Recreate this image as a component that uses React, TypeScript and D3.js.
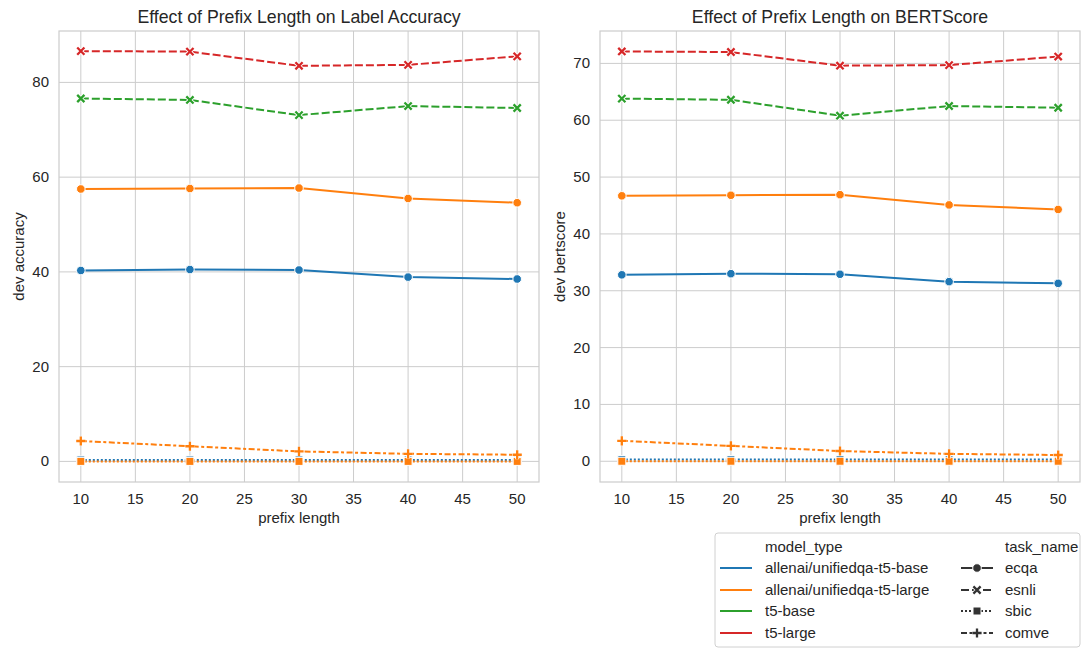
import React from 'react';
import * as d3 from 'd3';

const prefixLengths = [10, 20, 30, 40, 50];
const models = ['allenai/unifiedqa-t5-base', 'allenai/unifiedqa-t5-large', 't5-base', 't5-large'];
const modelColors = ['#1f77b4', '#ff7f0e', '#2ca02c', '#d62728'];
const tasks = ['ecqa', 'esnli', 'sbic', 'comve'];
const taskDashes = ['', '8,3', '2,2', '6,2.5,3,2.5'];

// accuracy series
const accBaseEcqa = [40.3, 40.5, 40.4, 38.9, 38.5];
const accLargeEcqa = [57.5, 57.6, 57.7, 55.5, 54.6];
const accT5BaseEsnli = [76.6, 76.3, 73.1, 75.0, 74.6];
const accT5LargeEsnli = [86.6, 86.5, 83.5, 83.7, 85.5];
const accBaseSbic = [0.3, 0.3, 0.3, 0.3, 0.3];
const accLargeSbic = [0, 0, 0, 0, 0];
const accLargeComve = [4.3, 3.2, 2.1, 1.6, 1.4];

// bertscore series
const bsBaseEcqa = [32.8, 33.0, 32.9, 31.6, 31.3];
const bsLargeEcqa = [46.7, 46.8, 46.9, 45.1, 44.3];
const bsT5BaseEsnli = [63.8, 63.6, 60.8, 62.5, 62.2];
const bsT5LargeEsnli = [72.1, 72.0, 69.6, 69.7, 71.2];
const bsBaseSbic = [0.3, 0.3, 0.3, 0.3, 0.3];
const bsLargeSbic = [0, 0, 0, 0, 0];
const bsLargeComve = [3.6, 2.7, 1.8, 1.3, 1.1];

type Series = { model: number; task: number; values: number[] };

const accSeries: Series[] = [
  { model: 0, task: 0, values: accBaseEcqa },
  { model: 1, task: 0, values: accLargeEcqa },
  { model: 2, task: 1, values: accT5BaseEsnli },
  { model: 3, task: 1, values: accT5LargeEsnli },
  { model: 0, task: 2, values: accBaseSbic },
  { model: 1, task: 2, values: accLargeSbic },
  { model: 1, task: 3, values: accLargeComve },
];
const bsSeries: Series[] = [
  { model: 0, task: 0, values: bsBaseEcqa },
  { model: 1, task: 0, values: bsLargeEcqa },
  { model: 2, task: 1, values: bsT5BaseEsnli },
  { model: 3, task: 1, values: bsT5LargeEsnli },
  { model: 0, task: 2, values: bsBaseSbic },
  { model: 1, task: 2, values: bsLargeSbic },
  { model: 1, task: 3, values: bsLargeComve },
];

const xTicks = [10, 15, 20, 25, 30, 35, 40, 45, 50];
const font = '"Liberation Sans", Arial, sans-serif';
const textColor = '#262626';
const fs = 15;

function Marker({ task, x, y, color }: { task: number; x: number; y: number; color: string }) {
  if (task === 0) return <circle cx={x} cy={y} r={4.3} fill={color} stroke="white" strokeWidth={1} />;
  if (task === 1) {
    const s = 3.6;
    const d = `M${x - s},${y - s}L${x + s},${y + s}M${x - s},${y + s}L${x + s},${y - s}`;
    return (
      <g>
        <path d={d} stroke="white" strokeWidth={4} />
        <path d={d} stroke={color} strokeWidth={2.3} />
      </g>
    );
  }
  if (task === 2) return <rect x={x - 4} y={y - 4} width={8} height={8} fill={color} stroke="white" strokeWidth={1} />;
  const s = 4.6;
  const d = `M${x - s},${y}L${x + s},${y}M${x},${y - s}L${x},${y + s}`;
  return (
    <g>
      <path d={d} stroke="white" strokeWidth={4} />
      <path d={d} stroke={color} strokeWidth={2.3} />
    </g>
  );
}

function Panel({ left, right, top, bottom, yDomain, yTicks, series, title, ylabel }: {
  left: number; right: number; top: number; bottom: number; yDomain: [number, number];
  yTicks: number[]; series: Series[]; title: string; ylabel: string;
}) {
  const x = d3.scaleLinear().domain([8, 52]).range([left, right]);
  const y = d3.scaleLinear().domain(yDomain).range([bottom, top]);
  const line = d3.line<number>().x((_, i) => x(prefixLengths[i])).y(d => y(d));
  return (
    <g fontFamily={font}>
      {xTicks.map(t => (
        <line key={'gx' + t} x1={x(t)} x2={x(t)} y1={top} y2={bottom} stroke="#cccccc" strokeWidth={1} />
      ))}
      {yTicks.map(t => (
        <line key={'gy' + t} x1={left} x2={right} y1={y(t)} y2={y(t)} stroke="#cccccc" strokeWidth={1} />
      ))}
      <rect x={left} y={top} width={right - left} height={bottom - top} fill="none" stroke="#cccccc" strokeWidth={1.2} />
      {series.map((s, i) => (
        <g key={i}>
          <path d={line(s.values) || ''} fill="none" stroke={modelColors[s.model]} strokeWidth={2}
            strokeDasharray={taskDashes[s.task]} />
          {s.values.map((v, j) => (
            <Marker key={j} task={s.task} x={x(prefixLengths[j])} y={y(v)} color={modelColors[s.model]} />
          ))}
        </g>
      ))}
      {xTicks.map(t => (
        <text key={'tx' + t} x={x(t)} y={bottom + 22} textAnchor="middle" fontSize={fs} fill={textColor}>{t}</text>
      ))}
      {yTicks.map(t => (
        <text key={'ty' + t} x={left - 10} y={y(t) + 5} textAnchor="end" fontSize={fs} fill={textColor}>{t}</text>
      ))}
      <text x={(left + right) / 2} y={top - 8} textAnchor="middle" fontSize={17.7} fill={textColor}>{title}</text>
      <text x={(left + right) / 2} y={bottom + 41} textAnchor="middle" fontSize={fs} fill={textColor}>prefix length</text>
      <text transform={`translate(${left - 35},${(top + bottom) / 2}) rotate(-90)`} textAnchor="middle" fontSize={fs} fill={textColor}>{ylabel}</text>
    </g>
  );
}

function Legend() {
  const bx = 715, by = 533;
  const rowY = [547, 568, 590, 611, 633];
  return (
    <g fontFamily={font} fontSize={fs} fill={textColor}>
      <rect x={bx} y={by} width={365} height={114} rx={3} fill="white" stroke="#d0d0d0" strokeWidth={1} />
      <text x={765} y={rowY[0] + 5} fill={textColor}>model_type</text>
      {models.map((m, i) => (
        <g key={m}>
          <line x1={720} x2={752} y1={rowY[i + 1]} y2={rowY[i + 1]} stroke={modelColors[i]} strokeWidth={2} />
          <text x={765} y={rowY[i + 1] + 5} fill={textColor}>{m}</text>
        </g>
      ))}
      <text x={1005} y={rowY[0] + 5} fill={textColor}>task_name</text>
      {tasks.map((t, i) => (
        <g key={t}>
          <line x1={961} x2={993} y1={rowY[i + 1]} y2={rowY[i + 1]} stroke="#333333" strokeWidth={2}
            strokeDasharray={taskDashes[i]} />
          <Marker task={i} x={977} y={rowY[i + 1]} color="#333333" />
          <text x={1005} y={rowY[i + 1] + 5} fill={textColor}>{t}</text>
        </g>
      ))}
    </g>
  );
}

export default function App() {
  return (
    <svg width={1086} height={648} style={{ position: 'absolute', left: 0, top: 0, background: 'white' }}>
      <Panel left={59} right={539} top={31} bottom={482} yDomain={[-4.35, 90.85]} yTicks={[0, 20, 40, 60, 80]}
        series={accSeries} title="Effect of Prefix Length on Label Accuracy" ylabel="dev accuracy" />
      <Panel left={600} right={1080} top={31} bottom={482} yDomain={[-3.65, 75.7]} yTicks={[0, 10, 20, 30, 40, 50, 60, 70]}
        series={bsSeries} title="Effect of Prefix Length on BERTScore" ylabel="dev bertscore" />
      <Legend />
    </svg>
  );
}
